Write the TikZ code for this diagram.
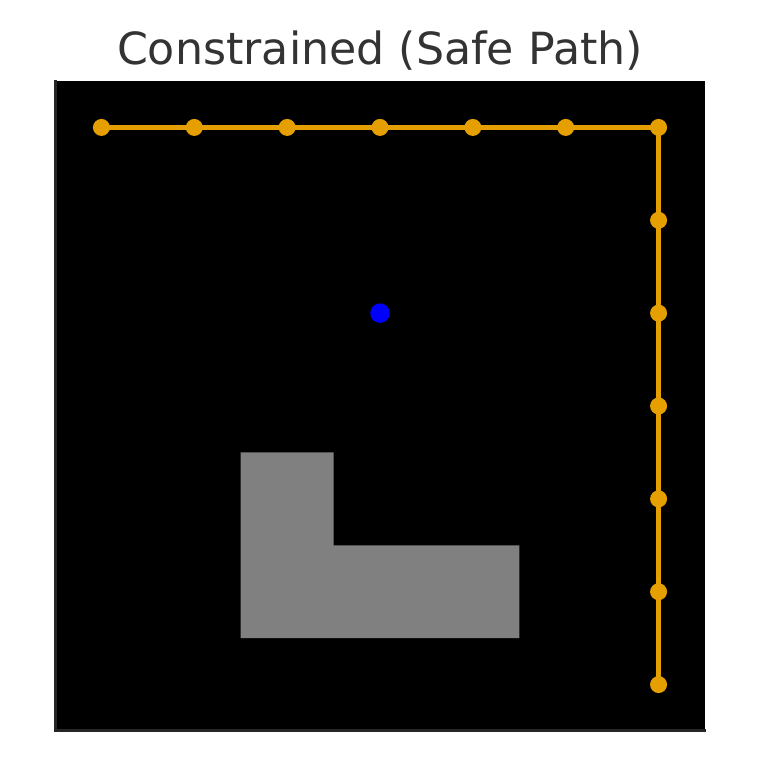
\documentclass[tikz,border=0pt]{standalone}
\usepackage{fontspec}
\setmainfont{DejaVu Sans}
\definecolor{pathorange}{HTML}{E69F00}
\definecolor{spine}{HTML}{262626}
\definecolor{titlegray}{HTML}{333333}
\definecolor{obst}{HTML}{808080}
\begin{document}
\begin{tikzpicture}[x=1pt,y=-1pt,
  wp/.style={circle,fill=pathorange,inner sep=0pt,minimum size=17pt},
  agent/.style={circle,fill=blue,inner sep=0pt,minimum size=19.5pt},
  route/.style={draw=pathorange,line width=5pt}]
\useasboundingbox (0,0) rectangle (760,760);
\fill[white] (0,0) rectangle (760,760);
\def\cs{92.857}
% background grid area
\fill[black] (55,81) rectangle (705,731);
% obstacle (L shape)
\fill[obst] (55+2*\cs,81+4*\cs) -- (55+3*\cs,81+4*\cs) -- (55+3*\cs,81+5*\cs) -- (55+5*\cs,81+5*\cs) -- (55+5*\cs,81+6*\cs) -- (55+2*\cs,81+6*\cs) -- cycle;
% spines
\draw[spine,line width=3pt] (55,80) -- (55,730) -- (706,730);
% waypoints
\foreach \k in {0,...,6} {
  \coordinate (t\k) at ({55+\cs*(\k+0.5)},{81+\cs*0.5});
}
\foreach \k in {1,...,6} {
  \coordinate (r\k) at ({55+\cs*6.5},{81+\cs*(\k+0.5)});
}
\draw[route] (t0) -- (t6) -- (r6);
\foreach \k in {0,...,6} { \node[wp] (wt\k) at (t\k) {}; }
\foreach \k in {1,...,6} { \node[wp] (wr\k) at (r\k) {}; }
% agent
\node[agent] (agent) at ({55+\cs*3.5},{81+\cs*2.5}) {};
% title
\node[anchor=base,text=titlegray,font=\fontsize{44.3}{50}\selectfont,inner sep=0pt] (title) at (380,65) {Constrained (Safe Path)};
\end{tikzpicture}
\end{document}
